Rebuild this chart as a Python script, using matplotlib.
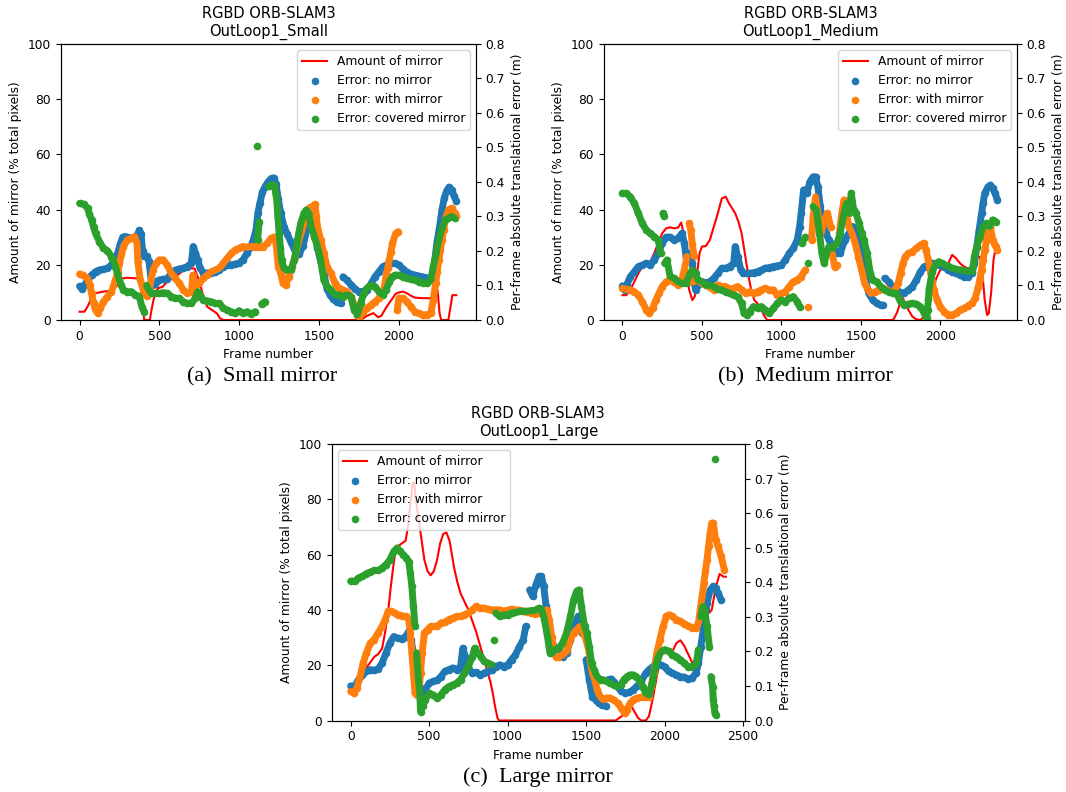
import matplotlib
matplotlib.use("Agg")
import matplotlib.pyplot as plt

# ---------------- data (frame, value) ----------------
# Amount of mirror (% of total pixels) - left axis
A_RED = [(0,3),(30,3),(50,4.8),(75,7.9),(100,9.7),(150,10.3),(200,10.6),(240,12.7),(270,15.1),(300,15.3),(350,15.1),(370,15),(385,11),(395,5),(405,0),(440,0),(455,5),(470,9),(490,11.5),(520,12),(550,14),(600,15.7),(650,17.9),(700,18.7),(720,18.7),(740,15.7),(760,12),(780,7.2),(800,4.8),(830,3.6),(860,2.4),(880,0.6),(900,0),(1760,0),(1800,1.5),(1840,2.5),(1870,1.0),(1890,1.5),(1920,4.5),(1950,7),(1980,9.5),(2000,10),(2025,10.3),(2050,9.7),(2075,8.8),(2100,8.1),(2150,7.9),(2200,7.9),(2230,8.5),(2242,10.9),(2255,2.4),(2265,0),(2310,0),(2320,3.6),(2335,9),(2360,9)]
B_RED = [(0,9),(25,9),(50,10.9),(75,13.9),(100,16.9),(125,19.3),(150,20.5),(175,21.1),(200,24.2),(225,27.8),(250,31.4),(275,33.2),(300,33.6),(325,33.2),(350,33.5),(370,35.3),(385,31.4),(400,19.3),(420,10.9),(440,7.2),(455,8.5),(470,16.9),(485,24.2),(500,26.6),(525,26.8),(550,29),(575,33.8),(600,38.6),(625,44),(650,44.7),(670,42.3),(690,40.5),(710,38.6),(730,35.6),(750,31.4),(770,24.2),(790,16.9),(810,10.9),(830,7.2),(850,6),(870,4.2),(890,1.8),(910,0),(1700,0),(1710,0.6),(1730,3),(1750,6.6),(1765,7.9),(1780,6),(1800,3.6),(1825,1.2),(1850,0.2),(1875,0),(1900,1.2),(1925,4.8),(1950,10.9),(1975,15.1),(2000,18.1),(2025,19.3),(2050,20.5),(2075,23.6),(2100,22.3),(2125,20.5),(2150,19.3),(2175,18.7),(2200,19.3),(2225,22.9),(2250,22.9),(2265,16.9),(2280,7.2),(2295,1.8),(2305,2.4),(2320,9.7),(2335,21.7),(2350,26.6),(2370,26.6)]
C_RED = [(0,11),(25,12),(50,14),(75,17),(100,19),(125,21),(150,23),(175,24),(200,26),(220,32),(240,40),(255,48),(270,55),(285,61),(300,63),(325,64),(350,65),(365,70),(380,78),(395,86),(405,86),(415,80),(430,74),(450,66),(470,58),(490,54),(510,52.5),(530,54),(550,58),(570,64),(590,67.5),(610,68),(630,65),(645,60),(660,55),(680,50),(700,46),(725,43),(750,40),(775,36),(800,32),(825,27),(850,22),(870,18),(890,14),(905,10),(920,5),(935,1),(945,0),(1690,0),(1700,0.5),(1725,1.5),(1750,3),(1775,4.5),(1790,5),(1810,3),(1830,1),(1850,0),(1880,0),(1900,1.5),(1925,8),(1950,16),(1975,23),(2000,26),(2025,26),(2050,25),(2075,28),(2100,29),(2125,27),(2150,24),(2175,21),(2200,21),(2225,28),(2250,40),(2270,45),(2285,39),(2300,40),(2325,48),(2350,53),(2375,52),(2390,52)]

# Per-frame absolute translational error (m) - right axis
A_BLUE = [(0,.098),(15,.090),(30,.100),(50,.116),(75,.130),(100,.140),(125,.145),(150,.147),(175,.150),(200,.160),(220,.175),(240,.195),(255,.220),(270,.240),(285,.242),(300,.240),(320,.238),(340,.237),(360,.245),(375,.260),(385,.250),(395,.200),(405,.185),(420,.185),(435,.170),(445,.130),(455,.100),(470,.105),(485,.112),(500,.116),(525,.118),(550,.120),(575,.135),(600,.144),(625,.148),(650,.150),(675,.155),(700,.165),(712,.213),(725,.195),(740,.175),(755,.150),(775,.136),(800,.136),(825,.136),(850,.138),(875,.145),(900,.155),(925,.158),(950,.160),(975,.162),(1000,.165),(1025,.175),(1050,.195),(1075,.215),(1090,.235),(1105,.260),(1117,.310),(1130,.340),(1145,.370),(1160,.385),(1180,.400),(1200,.410),(1215,.412),(1230,.395),(1245,.350),(1260,.310),(1280,.270),(1300,.250),(1325,.225),(1350,.200),(1375,.190),(1400,.215),(1425,.265),(1450,.285),(1470,.260),(1490,.210),(1510,.170),(1530,.135),(1550,.090),(1570,.072),(1590,.060),(1610,.052),(1635,.048),(1650,.125),(1675,.115),(1700,.102),(1725,.090),(1750,.082),(1775,.083),(1800,.087),(1825,.105),(1850,.125),(1875,.140),(1900,.155),(1925,.160),(1950,.164),(1975,.164),(2000,.160),(2025,.148),(2050,.138),(2075,.133),(2100,.130),(2125,.127),(2150,.125),(2175,.122),(2200,.120),(2215,.130),(2225,.175),(2240,.230),(2255,.270),(2270,.320),(2285,.355),(2300,.375),(2315,.385),(2330,.378),(2345,.360),(2360,.345)]
A_ORANGE = [(0,.133),(20,.130),(50,.121),(65,.100),(75,.077),(88,.050),(100,.029),(115,.019),(130,.034),(150,.053),(175,.068),(200,.082),(225,.116),(240,.140),(250,.164),(262,.190),(275,.213),(300,.232),(325,.237),(345,.242),(360,.222),(365,.170),(380,.116),(400,.087),(420,.070),(440,.097),(460,.145),(480,.164),(500,.174),(525,.174),(550,.159),(575,.135),(600,.121),(625,.106),(650,.087),(675,.077),(700,.082),(710,.130),(725,.097),(750,.106),(775,.121),(800,.130),(825,.140),(850,.145),(875,.150),(900,.164),(925,.179),(950,.193),(975,.203),(1000,.208),(1025,.213),(1050,.211),(1075,.213),(1100,.213),(1125,.211),(1150,.213),(1175,.222),(1200,.237),(1215,.240),(1230,.222),(1238,.190),(1245,.155),(1260,.135),(1275,.106),(1290,.101),(1310,.126),(1330,.155),(1350,.184),(1362,.210),(1375,.232),(1388,.252),(1400,.271),(1420,.309),(1440,.325),(1460,.330),(1475,.335),(1483,.300),(1490,.271),(1510,.232),(1530,.193),(1550,.155),(1575,.135),(1600,.106),(1625,.092),(1650,.087),(1675,.082),(1700,.068),(1725,.039),(1750,.010),(1775,.024),(1800,.034),(1825,.043),(1850,.053),(1875,.063),(1900,.077),(1910,.100),(1920,.126),(1930,.150),(1940,.174),(1950,.198),(1960,.222),(1980,.251),(1995,.256),(1990,.029),(2000,.063),(2025,.063),(2050,.053),(2075,.039),(2100,.024),(2125,.019),(2150,.015),(2175,.015),(2200,.019),(2215,.058),(2230,.106),(2240,.140),(2250,.174),(2260,.203),(2270,.232),(2280,.262),(2290,.290),(2310,.319),(2330,.324),(2350,.309),(2360,.300)]
A_GREEN = [(0,.338),(25,.336),(50,.324),(62,.308),(75,.290),(88,.270),(100,.251),(125,.227),(150,.208),(175,.201),(200,.184),(225,.155),(237,.135),(250,.116),(262,.100),(275,.087),(300,.082),(325,.082),(350,.073),(375,.068),(390,.039),(405,.024),(420,.100),(430,.090),(450,.077),(475,.077),(500,.077),(525,.079),(550,.077),(575,.068),(600,.063),(625,.063),(650,.053),(675,.048),(700,.048),(725,.063),(740,.082),(760,.068),(775,.058),(800,.055),(825,.053),(850,.048),(875,.048),(900,.034),(925,.029),(950,.024),(975,.019),(1000,.027),(1025,.019),(1050,.024),(1075,.017),(1100,.024),(1110,.504),(1115,.232),(1125,.285),(1140,.046),(1160,.053),(1185,.387),(1200,.391),(1220,.391),(1235,.348),(1242,.300),(1250,.251),(1258,.210),(1265,.174),(1280,.150),(1300,.145),(1325,.145),(1345,.174),(1355,.200),(1365,.232),(1375,.256),(1385,.280),(1405,.309),(1420,.319),(1435,.309),(1450,.271),(1470,.242),(1490,.213),(1510,.174),(1520,.145),(1530,.116),(1550,.097),(1575,.087),(1600,.073),(1625,.073),(1650,.068),(1675,.073),(1700,.068),(1710,.048),(1720,.029),(1740,.015),(1760,.048),(1780,.077),(1800,.092),(1825,.101),(1850,.097),(1875,.082),(1900,.073),(1920,.087),(1940,.111),(1960,.126),(1975,.130),(2000,.130),(2025,.126),(2050,.121),(2075,.118),(2100,.116),(2125,.111),(2150,.108),(2175,.108),(2200,.116),(2215,.155),(2230,.184),(2245,.222),(2260,.251),(2275,.271),(2290,.290),(2310,.295),(2330,.300),(2350,.295)]

B_BLUE = [(0,.099),(15,.087),(30,.105),(50,.126),(75,.140),(100,.155),(125,.159),(150,.164),(175,.159),(200,.174),(225,.193),(250,.222),(275,.240),(300,.240),(325,.232),(350,.237),(375,.251),(390,.222),(400,.184),(420,.193),(440,.164),(450,.116),(460,.087),(475,.101),(500,.111),(525,.108),(550,.111),(575,.121),(600,.135),(625,.150),(650,.150),(675,.155),(700,.164),(710,.213),(725,.184),(745,.145),(760,.135),(780,.135),(800,.135),(825,.137),(850,.140),(875,.145),(900,.150),(925,.152),(950,.155),(975,.157),(1000,.159),(1025,.174),(1050,.193),(1075,.208),(1100,.232),(1115,.271),(1125,.309),(1140,.377),(1160,.367),(1180,.401),(1200,.415),(1215,.415),(1230,.386),(1245,.329),(1260,.280),(1280,.251),(1300,.232),(1325,.213),(1350,.193),(1370,.193),(1400,.232),(1425,.251),(1450,.271),(1470,.251),(1490,.222),(1510,.164),(1530,.116),(1550,.077),(1575,.058),(1600,.048),(1625,.043),(1640,.043),(1650,.121),(1675,.111),(1700,.097),(1725,.087),(1750,.079),(1775,.079),(1800,.087),(1825,.097),(1850,.116),(1875,.140),(1900,.155),(1925,.159),(1950,.164),(1975,.164),(2000,.159),(2025,.155),(2050,.145),(2075,.140),(2100,.135),(2125,.130),(2150,.126),(2175,.126),(2200,.135),(2215,.164),(2230,.213),(2245,.261),(2260,.309),(2270,.340),(2280,.367),(2300,.386),(2315,.391),(2330,.382),(2345,.367),(2360,.348)]
B_ORANGE = [(0,.092),(25,.089),(50,.087),(75,.082),(100,.072),(125,.053),(150,.029),(170,.019),(190,.034),(210,.058),(230,.077),(250,.097),(275,.111),(300,.116),(325,.111),(350,.101),(375,.121),(390,.145),(405,.184),(420,.280),(430,.260),(440,.220),(450,.185),(420,.120),(440,.110),(475,.116),(500,.106),(525,.101),(550,.097),(575,.087),(600,.101),(625,.097),(650,.097),(675,.089),(700,.092),(725,.097),(750,.087),(775,.077),(800,.082),(825,.077),(850,.082),(875,.087),(900,.092),(925,.087),(950,.087),(975,.072),(1000,.077),(1025,.082),(1050,.097),(1075,.111),(1100,.116),(1125,.126),(1150,.145),(1170,.039),(1190,.232),(1200,.300),(1215,.357),(1230,.309),(1250,.251),(1270,.290),(1290,.309),(1310,.271),(1320,.193),(1335,.155),(1350,.159),(1365,.251),(1380,.309),(1395,.348),(1410,.309),(1425,.271),(1445,.251),(1465,.222),(1485,.184),(1505,.145),(1525,.106),(1545,.087),(1565,.077),(1590,.082),(1615,.087),(1640,.092),(1665,.087),(1690,.082),(1715,.087),(1735,.106),(1750,.135),(1765,.164),(1780,.184),(1800,.193),(1825,.198),(1850,.208),(1875,.217),(1895,.222),(1910,.203),(1925,.174),(1940,.135),(1950,.110),(1960,.087),(1980,.058),(2000,.039),(2025,.024),(2050,.015),(2075,.015),(2100,.019),(2125,.029),(2150,.034),(2175,.041),(2200,.048),(2220,.063),(2240,.097),(2250,.120),(2260,.145),(2270,.175),(2280,.203),(2290,.228),(2300,.251),(2315,.271),(2330,.232),(2345,.217),(2360,.203)]
B_GREEN = [(0,.367),(25,.367),(50,.357),(75,.338),(100,.309),(125,.280),(150,.261),(175,.251),(200,.242),(225,.232),(240,.193),(255,.309),(262,.300),(265,.164),(280,.174),(300,.126),(325,.121),(350,.111),(375,.106),(400,.106),(420,.130),(440,.145),(460,.135),(475,.116),(500,.111),(525,.101),(550,.101),(575,.097),(600,.089),(625,.087),(650,.082),(675,.077),(700,.072),(725,.068),(750,.048),(765,.019),(785,.015),(800,.024),(825,.039),(850,.034),(875,.039),(900,.029),(925,.019),(950,.034),(975,.048),(1000,.058),(1025,.053),(1050,.063),(1075,.068),(1100,.053),(1115,.039),(1130,.222),(1150,.240),(1170,.164),(1185,.242),(1200,.329),(1220,.319),(1240,.251),(1255,.193),(1270,.164),(1285,.193),(1300,.213),(1325,.208),(1350,.222),(1370,.251),(1390,.300),(1410,.338),(1425,.309),(1440,.367),(1455,.319),(1470,.309),(1490,.280),(1505,.251),(1520,.232),(1540,.193),(1560,.135),(1575,.116),(1600,.111),(1625,.097),(1650,.087),(1675,.082),(1700,.079),(1725,.077),(1750,.053),(1775,.043),(1800,.046),(1825,.048),(1850,.046),(1875,.039),(1900,.019),(1915,.005),(1920,.030),(1925,.060),(1930,.090),(1940,.116),(1950,.140),(1970,.160),(1990,.169),(2010,.164),(2030,.159),(2050,.156),(2075,.150),(2100,.147),(2125,.145),(2150,.143),(2175,.142),(2200,.140),(2210,.165),(2215,.184),(2230,.213),(2250,.242),(2270,.271),(2290,.280),(2310,.271),(2330,.290),(2350,.285)]

C_BLUE = [(0,.100),(25,.098),(50,.118),(75,.132),(100,.142),(125,.147),(150,.145),(175,.149),(200,.166),(225,.195),(250,.224),(275,.243),(300,.238),(325,.236),(350,.243),(370,.258),(385,.234),(400,.195),(410,.176),(425,.156),(440,.098),(455,.079),(475,.089),(500,.108),(525,.113),(550,.116),(575,.127),(600,.142),(625,.147),(650,.152),(675,.147),(700,.156),(715,.209),(730,.185),(750,.152),(775,.137),(800,.139),(825,.132),(850,.137),(875,.142),(900,.147),(925,.156),(950,.161),(975,.156),(1000,.161),(1025,.176),(1050,.190),(1075,.214),(1100,.234),(1115,.272),(1140,.378),(1160,.359),(1180,.393),(1200,.417),(1215,.417),(1230,.388),(1245,.330),(1265,.263),(1285,.224),(1300,.209),(1325,.195),(1350,.185),(1375,.195),(1400,.234),(1425,.272),(1450,.301),(1475,.253),(1500,.176),(1520,.118),(1540,.069),(1560,.060),(1580,.050),(1600,.045),(1625,.042),(1640,.118),(1660,.120),(1680,.110),(1700,.098),(1725,.084),(1750,.079),(1775,.082),(1800,.089),(1825,.100),(1850,.113),(1880,.137),(1900,.147),(1925,.156),(1950,.161),(1975,.161),(2000,.156),(2025,.142),(2050,.137),(2075,.132),(2100,.127),(2125,.125),(2150,.120),(2175,.123),(2200,.137),(2215,.166),(2230,.214),(2250,.272),(2270,.340),(2290,.378),(2310,.388),(2325,.383),(2340,.369),(2360,.349)]
C_ORANGE = [(0,.084),(20,.079),(40,.094),(60,.127),(80,.166),(100,.195),(125,.224),(150,.234),(175,.253),(200,.272),(220,.292),(240,.316),(260,.316),(280,.311),(300,.306),(325,.303),(350,.301),(370,.292),(380,.253),(390,.195),(400,.137),(410,.079),(420,.074),(435,.079),(445,.137),(455,.195),(470,.253),(490,.263),(510,.272),(530,.272),(550,.272),(575,.282),(600,.284),(625,.292),(650,.296),(675,.301),(700,.301),(725,.306),(750,.311),(775,.320),(800,.330),(825,.325),(850,.325),(875,.322),(900,.320),(925,.320),(950,.320),(975,.316),(1000,.319),(1025,.322),(1050,.320),(1075,.319),(1100,.316),(1125,.315),(1150,.311),(1175,.309),(1200,.311),(1225,.316),(1250,.320),(1265,.292),(1280,.243),(1295,.195),(1310,.185),(1330,.185),(1350,.190),(1375,.200),(1400,.234),(1420,.253),(1440,.263),(1460,.272),(1480,.253),(1500,.234),(1520,.195),(1540,.137),(1555,.118),(1570,.089),(1590,.069),(1610,.060),(1630,.065),(1650,.065),(1675,.060),(1700,.050),(1725,.036),(1745,.021),(1760,.031),(1780,.050),(1800,.060),(1825,.065),(1850,.067),(1875,.067),(1900,.069),(1915,.098),(1930,.137),(1940,.166),(1950,.195),(1970,.234),(1990,.272),(2010,.301),(2030,.306),(2050,.301),(2075,.292),(2100,.287),(2125,.280),(2150,.274),(2175,.269),(2200,.267),(2215,.282),(2230,.330),(2240,.364),(2250,.398),(2260,.432),(2270,.465),(2280,.505),(2290,.542),(2300,.571),(2310,.571),(2325,.523),(2340,.504),(2360,.475),(2380,.436)]
C_GREEN = [(0,.403),(25,.403),(50,.412),(75,.417),(100,.425),(125,.429),(150,.434),(175,.434),(200,.441),(225,.451),(250,.465),(275,.489),(295,.499),(315,.489),(335,.480),(355,.470),(370,.460),(380,.427),(390,.388),(400,.330),(410,.272),(420,.195),(430,.127),(440,.084),(445,.026),(460,.041),(475,.060),(500,.079),(525,.074),(550,.065),(575,.074),(600,.089),(625,.098),(650,.103),(675,.108),(700,.118),(725,.137),(750,.156),(775,.185),(790,.209),(810,.195),(830,.185),(850,.171),(875,.166),(900,.161),(910,.234),(925,.311),(950,.301),(975,.306),(1000,.306),(1025,.311),(1050,.313),(1075,.316),(1100,.316),(1125,.316),(1150,.318),(1175,.319),(1200,.325),(1215,.322),(1230,.301),(1250,.253),(1270,.195),(1285,.195),(1300,.205),(1325,.209),(1350,.224),(1375,.253),(1400,.301),(1420,.349),(1440,.374),(1455,.378),(1470,.330),(1490,.272),(1505,.253),(1520,.214),(1535,.166),(1550,.147),(1570,.127),(1590,.118),(1610,.118),(1630,.113),(1650,.108),(1675,.103),(1700,.098),(1720,.103),(1740,.118),(1760,.127),(1780,.132),(1800,.132),(1820,.127),(1840,.118),(1860,.098),(1880,.079),(1900,.074),(1920,.108),(1940,.156),(1960,.185),(1980,.200),(2000,.205),(2025,.200),(2050,.190),(2075,.185),(2100,.176),(2125,.166),(2150,.156),(2175,.156),(2200,.161),(2215,.205),(2230,.300),(2245,.330),(2255,.320),(2270,.272),(2285,.214),(2295,.127),(2305,.098),(2310,.060),(2315,.041),(2320,.021),(2325,.016),(2320,.757)]

TITLES = ["RGBD ORB-SLAM3\nOutLoop1_Small", "RGBD ORB-SLAM3\nOutLoop1_Medium", "RGBD ORB-SLAM3\nOutLoop1_Large"]
CAPTIONS = ["(a)  Small mirror", "(b)  Medium mirror", "(c)  Large mirror"]
LEGEND_LABELS = ["Amount of mirror", "Error: no mirror", "Error: with mirror", "Error: covered mirror"]

# ---------------- layout ----------------
W, H = 1066, 792
FS = 8.8
plt.rcParams['font.family'] = ['DejaVu Sans']
fig = plt.figure(figsize=(W / 100, H / 100), dpi=100)

PANELS = [
    dict(box=(60.7, 476, 44, 320), xlim=(-118, 2483), red=A_RED, blue=A_BLUE, orange=A_ORANGE, green=A_GREEN, loc='upper right'),
    dict(box=(603.7, 1017, 44, 320), xlim=(-118, 2483), red=B_RED, blue=B_BLUE, orange=B_ORANGE, green=B_GREEN, loc='upper right'),
    dict(box=(331.8, 744.7, 444, 720.5), xlim=(-120, 2510), red=C_RED, blue=C_BLUE, orange=C_ORANGE, green=C_GREEN, loc='upper left'),
]
CAP_POS = [(262, 377), (805, 377), (538, 777)]


def unzip(pairs):
    return [p[0] for p in pairs], [p[1] for p in pairs]


def runs(pairs, dxmax=40, dymax=0.07):
    """Split consecutive readings into continuous runs (dense frame bands)."""
    out, cur = [], [pairs[0]]
    for a, b in zip(pairs, pairs[1:]):
        if 0 < b[0] - a[0] <= dxmax and abs(b[1] - a[1]) <= dymax:
            cur.append(b)
        else:
            out.append(cur)
            cur = [b]
    out.append(cur)
    return out


for i, p in enumerate(PANELS):
    l, r, t, b = p['box']
    ax = fig.add_axes([l / W, 1 - b / H, (r - l) / W, (b - t) / H])
    ax2 = ax.twinx()
    x, y = unzip(p['red'])
    ln, = ax.plot(x, y, color='red', lw=1.5, label=LEGEND_LABELS[0])
    handles = [ln]
    for key, col, lab in [('blue', '#1f77b4', LEGEND_LABELS[1]),
                          ('orange', '#ff7f0e', LEGEND_LABELS[2]),
                          ('green', '#2ca02c', LEGEND_LABELS[3])]:
        for seg in runs(p[key]):
            if len(seg) > 1:
                sx, sy = unzip(seg)
                ax2.plot(sx, sy, color=col, lw=5.0, solid_capstyle='round',
                         solid_joinstyle='round')
        x, y = unzip(p[key])
        sc = ax2.scatter(x, y, s=20, color=col, label=lab)
        handles.append(sc)
    ax.set_xlim(*p['xlim'])
    ax.set_ylim(0, 100)
    ax2.set_ylim(0, 0.8)
    ax.set_xlabel('Frame number', fontsize=FS)
    ax.set_ylabel('Amount of mirror (% total pixels)', fontsize=FS)
    ax2.set_ylabel('Per-frame absolute translational error (m)', fontsize=FS)
    ax.tick_params(labelsize=FS)
    ax2.tick_params(labelsize=FS)
    ax.set_title(TITLES[i], fontsize=10.5)
    ax2.legend(handles=handles, loc=p['loc'], fontsize=FS)
    cx, cy = CAP_POS[i]
    fig.text(cx / W, 1 - cy / H, CAPTIONS[i], ha='center', va='center',
             fontsize=16, family='Liberation Serif')

fig.savefig('out.png', dpi=100)
